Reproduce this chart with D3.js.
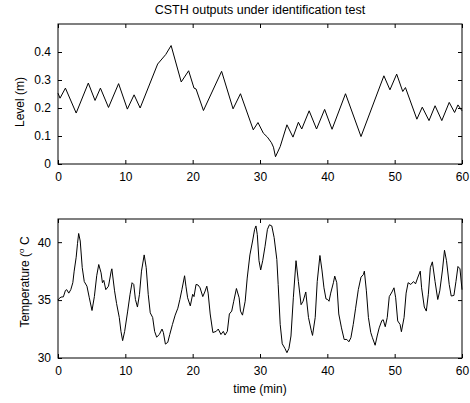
<!DOCTYPE html>
<html>
<head>
<meta charset="utf-8">
<script src="https://cdn.jsdelivr.net/npm/d3@7"></script>
<style>
  body { margin: 0; background: #fff; }
  svg { display: block; }
  text { font-family: "Liberation Sans", Arial, sans-serif; fill: #000; }
</style>
</head>
<body>
<div id="chart"></div>
<script>
// level trace: [time (min), level (m)]
var levelData = [
  [0, 0.253], [0.3, 0.235], [1.1, 0.271], [2.7, 0.182], [4.5, 0.289], [5.5, 0.227],
  [6.3, 0.271], [7.5, 0.202], [9.0, 0.287], [10.3, 0.196], [11.3, 0.247], [12.2, 0.200],
  [14.8, 0.357], [16.0, 0.391], [16.8, 0.423], [18.3, 0.293], [19.4, 0.333], [20.2, 0.271],
  [20.5, 0.268], [21.6, 0.191], [24.3, 0.331], [26.0, 0.197], [27.1, 0.251], [29.0, 0.122],
  [29.7, 0.148], [30.5, 0.110], [31.1, 0.096], [31.7, 0.076], [32.0, 0.060], [32.3, 0.026],
  [33.0, 0.062], [34.0, 0.140], [34.9, 0.096], [35.7, 0.149], [36.2, 0.125], [37.3, 0.190],
  [38.4, 0.125], [39.6, 0.195], [40.7, 0.124], [42.7, 0.251], [45.0, 0.098], [48.4, 0.315],
  [49.3, 0.265], [50.3, 0.321], [51.2, 0.259], [51.6, 0.273], [53.3, 0.160], [54.1, 0.203],
  [55.1, 0.155], [56.0, 0.208], [57.0, 0.155], [58.1, 0.220], [58.9, 0.184], [59.4, 0.211],
  [60, 0.19]
]

// temperature trace: [time (min), temperature (C)]
var tempData = [
  [0, 35.0], [0.1, 35.1], [0.45, 35.26], [0.8, 35.28], [1.1, 35.83], [1.3, 35.9], [1.6, 35.6],
  [1.9, 35.9], [2.2, 36.5], [2.4, 37.5], [2.7, 38.7], [2.9, 39.9], [3.07, 40.75], [3.3, 40.1],
  [3.6, 37.8], [3.9, 36.6], [4.3, 36.2], [4.65, 35.2], [5.05, 34.1], [5.4, 35.3], [5.75, 37.1],
  [6.05, 38.07], [6.4, 37.35], [6.6, 36.5], [6.8, 36.7], [7.1, 35.9], [7.5, 36.2], [7.9, 37.5],
  [8.0, 37.7], [8.4, 35.8], [8.7, 34.7], [9.1, 33.5], [9.35, 32.3], [9.6, 31.5], [9.9, 32.3],
  [10.35, 34.05], [10.7, 35.5], [11.0, 36.5], [11.25, 36.35], [11.5, 35.05], [11.8, 34.4],
  [12.1, 35.5], [12.4, 37.5], [12.8, 38.9], [13.1, 37.8], [13.4, 35.5], [13.7, 33.9],
  [14.06, 33.5], [14.35, 32.3], [14.65, 31.8], [15.05, 32.03], [15.45, 32.5], [15.65, 32.2],
  [15.95, 31.2], [16.3, 31.35], [16.6, 32.03], [17.0, 32.9], [17.4, 33.7], [17.8, 34.3],
  [18.1, 35.05], [18.4, 35.9], [18.8, 37.1], [19.0, 36.2], [19.25, 35.2], [19.65, 34.5],
  [20.0, 35.5], [20.2, 35.3], [20.5, 36.35], [20.8, 36.3], [21.1, 36.06], [21.5, 35.3],
  [21.8, 35.7], [22.1, 36.2], [22.3, 35.6], [22.6, 33.8], [23.0, 32.2], [23.5, 32.3],
  [23.8, 32.5], [24.2, 32.03], [24.55, 32.3], [24.8, 31.98], [25.15, 32.3], [25.45, 33.8],
  [25.8, 34.05], [26.1, 34.9], [26.5, 36.0], [26.9, 35.2], [27.1, 34.05], [27.4, 33.7],
  [27.8, 34.9], [28.1, 36.9], [28.5, 38.9], [28.9, 40.1], [29.2, 41.1], [29.4, 41.4],
  [29.6, 40.65], [29.85, 38.4], [30.1, 37.6], [30.4, 38.4], [30.75, 39.65], [31.1, 41.1],
  [31.4, 41.5], [31.75, 41.4], [32.1, 40.4], [32.5, 38.5], [32.7, 36.35], [33.0, 32.9],
  [33.3, 31.23], [33.7, 30.83], [34.0, 30.46], [34.3, 30.83], [34.6, 31.9], [34.95, 35.2],
  [35.35, 38.4], [35.7, 36.6], [36.1, 34.6], [36.4, 34.9], [36.8, 35.7], [37.2, 33.5],
  [37.6, 32.4], [37.8, 31.95], [38.2, 33.5], [38.5, 36.6], [38.9, 38.85], [39.2, 37.6],
  [39.5, 36.06], [39.8, 35.1], [40.05, 35.05], [40.25, 34.9], [40.5, 35.6], [40.9, 36.5],
  [41.1, 37.07], [41.4, 36.5], [41.7, 33.8], [42.1, 32.6], [42.5, 31.6], [42.9, 31.6],
  [43.2, 31.4], [43.5, 31.75], [43.85, 32.9], [44.2, 34.3], [44.6, 35.9], [45.0, 36.98],
  [45.35, 37.2], [45.5, 37.5], [45.8, 35.8], [46.1, 33.5], [46.45, 32.2], [46.7, 31.75],
  [47.1, 31.1], [47.4, 31.9], [47.7, 32.6], [48.1, 33.24], [48.3, 33.3], [48.6, 32.7],
  [48.9, 33.5], [49.2, 35.3], [49.6, 35.7], [49.9, 36.06], [50.15, 35.2], [50.45, 33.2],
  [50.8, 32.9], [51.0, 32.27], [51.4, 33.5], [51.7, 35.6], [52.0, 36.5], [52.4, 36.35],
  [52.8, 36.6], [53.1, 36.4], [53.4, 36.9], [53.8, 37.5], [54.0, 36.06], [54.4, 34.4],
  [54.7, 34.05], [55.0, 35.5], [55.3, 37.8], [55.6, 38.3], [56.0, 36.6], [56.4, 35.05],
  [56.7, 35.8], [57.1, 37.6], [57.4, 39.3], [57.7, 38.4], [58.1, 36.35], [58.4, 35.35],
  [58.8, 35.4], [59.1, 36.6], [59.4, 37.9], [59.7, 37.7], [60.0, 35.9]
]

var timeTicks = [0, 10, 20, 30, 40, 50, 60]
var levelTicks = [0, 0.1, 0.2, 0.3, 0.4]
var tempTicks = [30, 35, 40]

var width = 470, height = 403
var svg = d3.select("#chart").append("svg")
  .attr("width", width)
  .attr("height", height)

function drawPanel(opts) {
  var x = d3.scaleLinear().domain([0, 60]).range([58, 462])
  var y = d3.scaleLinear().domain(opts.yDomain).range([opts.bottom, opts.top])
  var g = svg.append("g")

  // box
  g.append("rect")
    .attr("x", 58).attr("y", opts.top)
    .attr("width", 404).attr("height", opts.bottom - opts.top)
    .attr("fill", "none").attr("stroke", "#000").attr("stroke-width", 1)

  // matlab style ticks: inward, on all four sides
  var xb = d3.axisBottom(x).tickValues(timeTicks).tickSize(-4).tickPadding(8).tickFormat(d3.format("d"))
  var xt = d3.axisTop(x).tickValues(timeTicks).tickSize(-4).tickFormat("")
  var yl = d3.axisLeft(y).tickValues(opts.yTicks).tickSize(-4).tickPadding(7).tickFormat(opts.fmt)
  var yr = d3.axisRight(y).tickValues(opts.yTicks).tickSize(-4).tickFormat("")

  g.append("g").attr("transform", "translate(0," + opts.bottom + ")").call(xb)
  g.append("g").attr("transform", "translate(0," + opts.top + ")").call(xt)
  g.append("g").attr("transform", "translate(58,0)").call(yl)
  g.append("g").attr("transform", "translate(462,0)").call(yr)

  g.selectAll(".domain").remove()
  g.selectAll(".tick line").attr("stroke", "#000")
  g.selectAll(".tick text").attr("font-size", 12).attr("font-family", "Liberation Sans, Arial, sans-serif")

  var line = d3.line()
    .x(function(d) { return x(d[0]) })
    .y(function(d) { return y(d[1]) })

  g.append("path")
    .datum(opts.data)
    .attr("d", line)
    .attr("fill", "none")
    .attr("stroke", "#000")
    .attr("stroke-width", 1)
    .attr("stroke-linejoin", "round")
  return g
}

drawPanel({
  data: levelData, yDomain: [0, 0.5], yTicks: levelTicks,
  top: 24, bottom: 164,
  fmt: function(d) { return d === 0 ? "0" : d3.format(".1f")(d) }
})

drawPanel({
  data: tempData, yDomain: [30, 42], yTicks: tempTicks,
  top: 219, bottom: 358,
  fmt: d3.format("d")
})

// titles and labels
svg.append("text")
  .attr("x", 260).attr("y", 13.5)
  .attr("text-anchor", "middle").attr("font-size", 12.5)
  .text("CSTH outputs under identification test")

svg.append("text")
  .attr("transform", "translate(24,102) rotate(-90)")
  .attr("text-anchor", "middle").attr("font-size", 12)
  .text("Level (m)")

var tl = svg.append("text")
  .attr("transform", "translate(29,282) rotate(-90)")
  .attr("text-anchor", "middle").attr("font-size", 12)
tl.append("tspan").text("Temperature (")
tl.append("tspan").attr("font-size", 8).attr("dy", -5).text("o")
tl.append("tspan").attr("dy", 5).text(" C")

svg.append("text")
  .attr("x", 260).attr("y", 393)
  .attr("text-anchor", "middle").attr("font-size", 12)
  .text("time (min)")
</script>
</body>
</html>
